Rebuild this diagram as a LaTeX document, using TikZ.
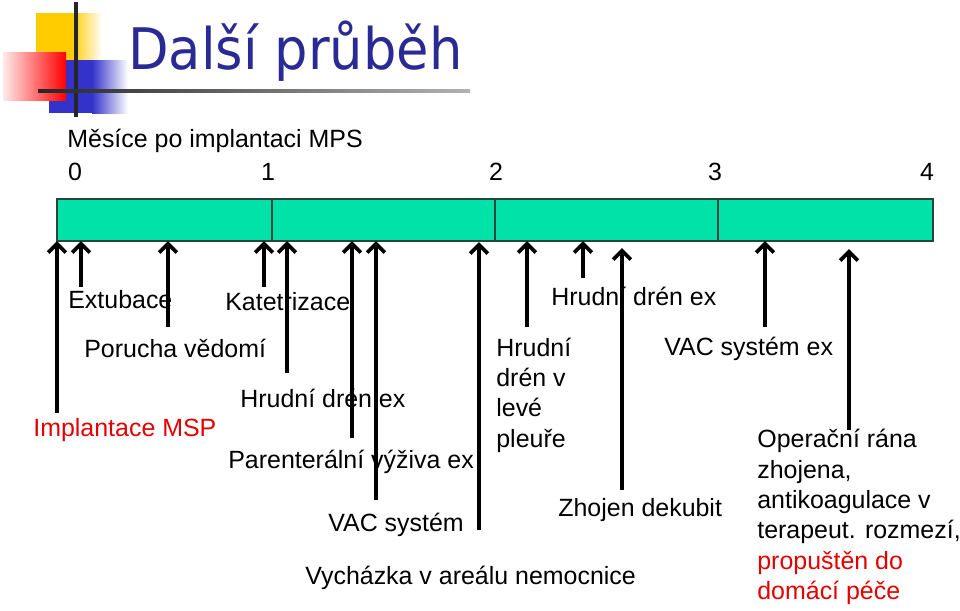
\documentclass[tikz,border=0pt]{standalone}
\usepackage{fontspec}
\setmainfont{Liberation Sans}
\newfontfamily\titlefont{DejaVu Sans}
\usepackage{tikz}
\usetikzlibrary{arrows.meta, positioning}
\definecolor{barfill}{RGB}{0,226,168}
\definecolor{barline}{RGB}{40,70,60}
\definecolor{titleblue}{RGB}{42,42,148}
\definecolor{myred}{RGB}{226,0,0}
\definecolor{logoyellow}{RGB}{255,204,0}
\definecolor{logored}{RGB}{255,0,0}
\definecolor{logoblue}{RGB}{51,51,204}
\tikzset{
  lbl/.style={anchor=west, inner sep=0pt, align=left,
    font=\fontsize{14.2pt}{17.3pt}\selectfont},
  redlbl/.style={lbl, text=myred},
  tick/.style={inner sep=0pt, font=\fontsize{14.2pt}{17.3pt}\selectfont},
  evarrow/.style={-{Straight Barb[length=5pt,width=10pt]}, line width=2.2pt, color=black}
}

\begin{document}
\begin{tikzpicture}[x=0.02cm, y=-0.02cm]
  \useasboundingbox (0,0) rectangle (960,610);

  % Logo
  \fill[logoyellow] (36,13) rectangle (72,60);
  \shade[left color=logoyellow, right color=white] (72,13) rectangle (102,60);
  \fill[logoblue] (49,60) rectangle (92,113);
  \shade[left color=logoblue, right color=white] (92,60) rectangle (128,113);
  \shade[left color=logored!8, right color=logored] (3,52) rectangle (66,100);
  \draw[line width=2pt, black!85] (76,2) -- (76,117);
  \shade[left color=black!85, right color=black!30] (38,89.5) rectangle (470,92.5);

  % Title
  \node[anchor=base west, inner sep=0pt, text=titleblue,
    font=\titlefont\fontsize{32.6pt}{36pt}\selectfont] (title) at (128,69)
    {\scalebox{0.92}[1]{Další průběh}};

  % Time axis
  \node[lbl] (axis) at (67,141) {Měsíce po implantaci MPS};
  \foreach \m/\x in {0/75, 1/268, 2/496, 3/715, 4/927}
    \node[tick] (m\m) at (\x,172) {\m};

  \draw[fill=barfill, draw=barline, line width=0.7pt] (57,199) rectangle (933,241);
  \foreach \x in {272, 495, 718}
    \draw[barline, line width=0.6pt] (\x,199) -- (\x,241);

  % Labels
  \node[redlbl] (implant) at (33,430) {Implantace MSP};
  \node[lbl] (extub) at (68,300) {Extubace};
  \node[lbl] (porucha) at (84,348) {Porucha vědomí};
  \node[lbl] (katetr) at (225,302) {Katetrizace};
  \node[lbl] (drenex) at (240,398) {Hrudní drén ex};
  \node[lbl] (parent) at (228,462) {Parenterální výživa ex};
  \node[lbl] (vac) at (328,525) {VAC systém};
  \node[lbl] (vychazka) at (305,578) {Vycházka v areálu nemocnice};
  \node[lbl] (drenlev) at (496,395) {Hrudní\\drén v\\levé\\pleuře};
  \node[lbl] (drenex2) at (551,296) {Hrudní drén ex};
  \node[lbl] (dekubit) at (558,510) {Zhojen dekubit};
  \node[lbl] (vacex) at (664,349) {VAC systém ex};
  \node[lbl] (rana) at (757,517) {Operační rána\\zhojena,\\antikoagulace v\\terapeut. rozmezí,\\\textcolor{myred}{propuštěn do}\\\textcolor{myred}{domácí péče}};

  % Event arrows
  \foreach \n/\x/\ya/\yb in {1/57/413/241, 2/81/287/241, 3/168/327/241, 4/264/287/241,
      5/287/373/241, 6/352/438/241, 7/376/500/241, 8/479/530/242, 9/527/327/241,
      10/583/278/241, 11/622/490/248, 12/765/327/241, 13/849/430/249} {
    \coordinate (tail\n) at (\x,\ya);
    \coordinate (tip\n) at (\x,\yb);
    \draw[evarrow] (tail\n) -- (tip\n);
  }
\end{tikzpicture}
\end{document}
